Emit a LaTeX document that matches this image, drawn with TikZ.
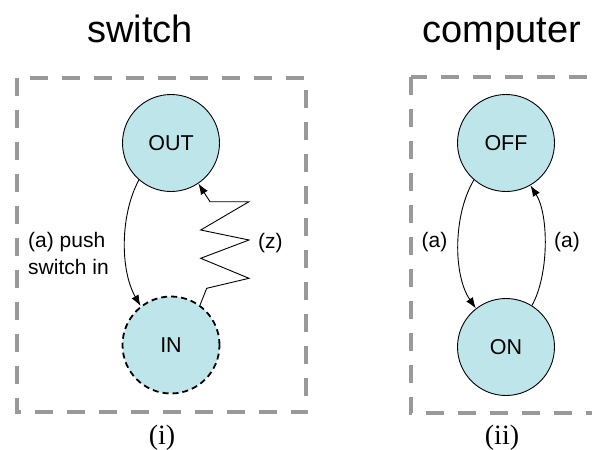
\documentclass[tikz,border=0pt]{standalone}
\usepackage{fontspec}
\setmainfont{Liberation Sans}
\newfontfamily\serifcap{Liberation Serif}
\usetikzlibrary{arrows.meta}
\definecolor{statefill}{HTML}{BEE6EA}
\definecolor{boxgray}{HTML}{999999}
\begin{document}
\begin{tikzpicture}[x=1pt,y=1pt,
  state/.style={circle, draw=black, line width=0.9pt, fill=statefill, minimum size=97pt, inner sep=0pt, font=\fontsize{21.5}{24}\selectfont},
  dashedstate/.style={state, line width=1.8pt, dash pattern=on 6pt off 4pt},
  lbl/.style={font=\fontsize{21}{25}\selectfont, inner sep=0pt, anchor=base west},
  titletext/.style={font=\fontsize{38}{44}\selectfont, inner sep=0pt, anchor=base},
  captext/.style={font=\serifcap\fontsize{28}{32}\selectfont, inner sep=0pt, anchor=base},
  frame/.style={draw=boxgray, line width=4pt, dash pattern=on 18pt off 14pt},
  trans/.style={line width=0.9pt, -{Latex[length=11pt,width=8pt]}}]
\useasboundingbox (0,0) rectangle (592,-450);
\clip (0,0) rectangle (592,-450);
% frames
\draw[frame] (17,-77.5) rectangle (306,-412);
\draw[frame] (410.5,-76.5) rectangle (594,-413);
% titles and captions
\node[titletext] (t1) at (140,-42) {switch};
\node[titletext] (t2) at (502,-42) {computer};
\node[captext] (c1) at (162,-444) {(i)};
\node[captext] (c2) at (502,-444) {(ii)};
% states
\node[state] (out) at (171,-143) {OUT};
\node[dashedstate] (in) at (171,-345) {IN};
\node[state] (off) at (506,-143) {OFF};
\node[state] (on) at (506,-347) {ON};
% switch transitions
\draw[trans] (out.229) .. controls (120,-215) and (120,-270) .. (in.128);
\draw[trans] (in.54) -- (206.7,-288.3) -- (249,-278.3) -- (200.7,-258.3) -- (249,-240) -- (200.7,-230) -- (249,-201.7) -- (210,-201.7) -- (out.304);
\node[lbl] (la1) at (28,-247) {(a) push};
\node[lbl] (la2) at (28,-274) {switch in};
\node[lbl] (lz) at (258,-248) {(z)};
% computer transitions
\draw[trans] (off.229) .. controls (453,-215) and (453,-275) .. (on.128);
\draw[trans] (on.58) .. controls (549,-275) and (549,-215) .. (off.300);
\node[lbl] (lb1) at (421.5,-247) {(a)};
\node[lbl] (lb2) at (554,-247) {(a)};
\end{tikzpicture}
\end{document}
